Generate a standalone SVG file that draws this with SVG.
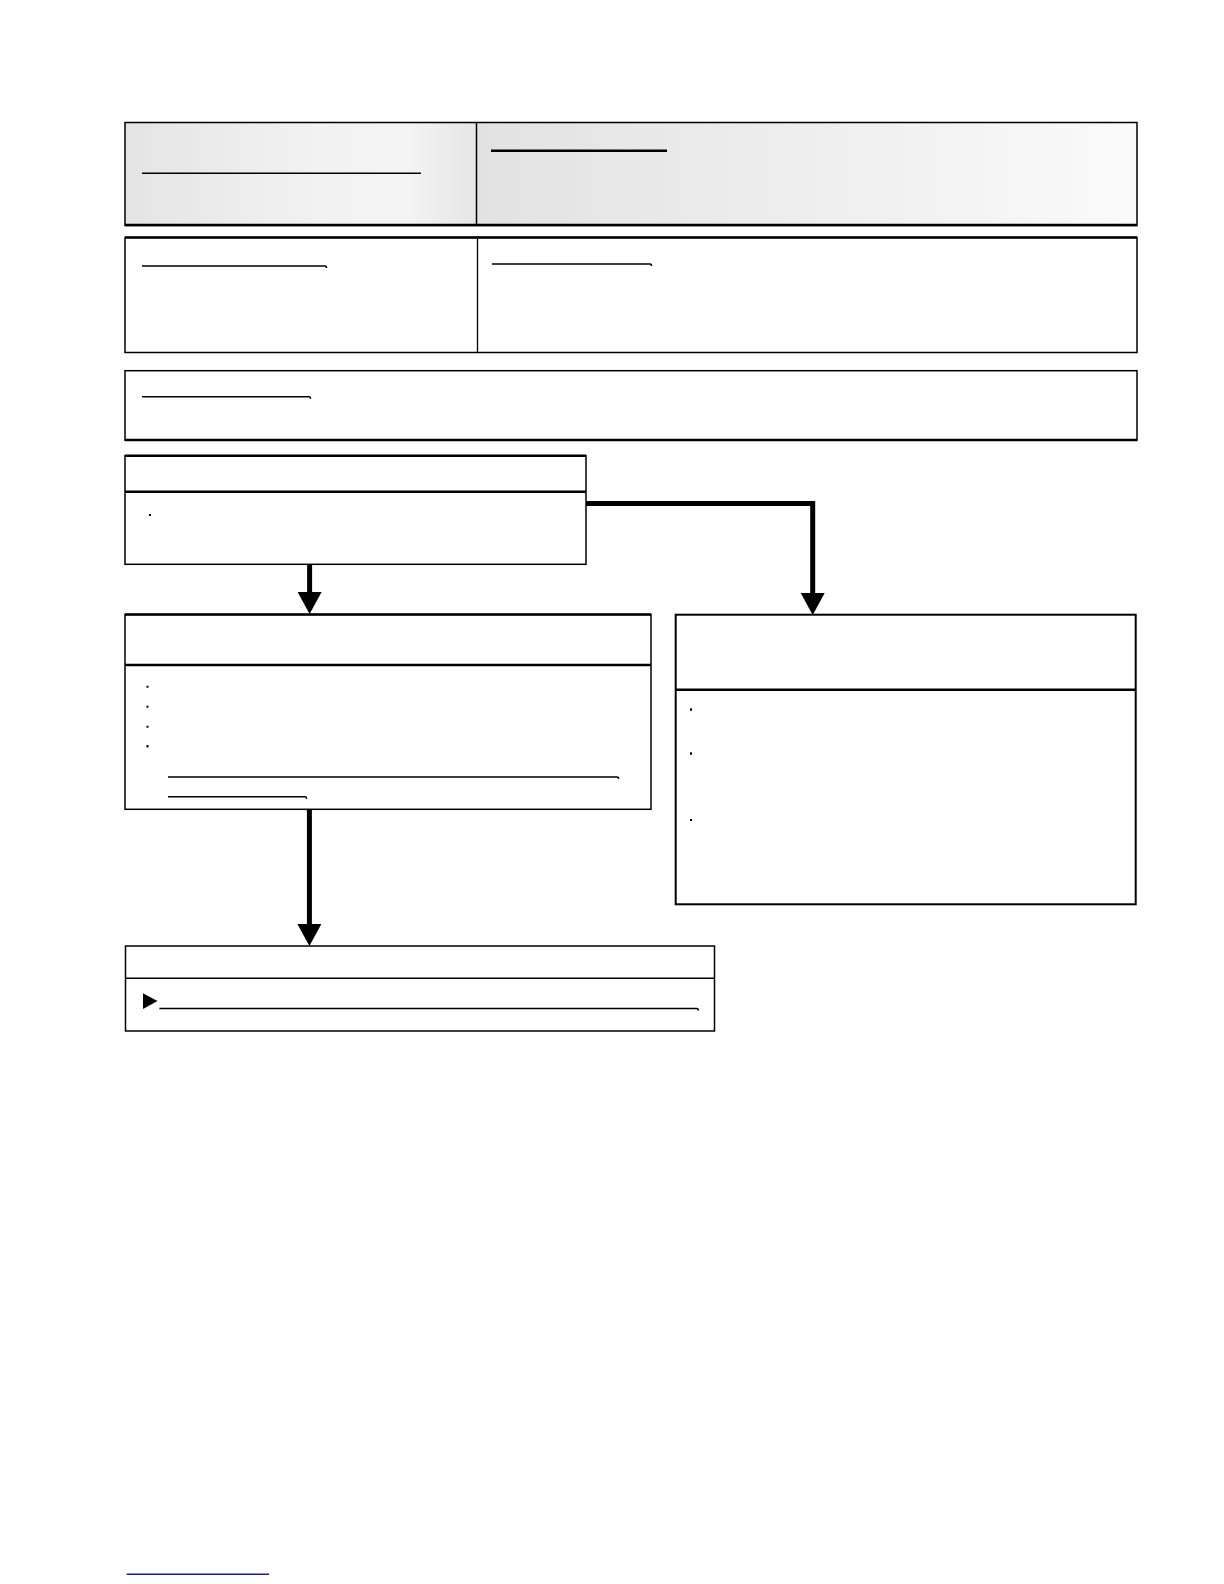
<svg xmlns="http://www.w3.org/2000/svg" width="1224" height="1584" viewBox="0 0 1224 1584">
  <defs>
    <linearGradient id="gLeft" x1="0" y1="0" x2="1" y2="0">
      <stop offset="0" stop-color="#e4e4e4"/>
      <stop offset="0.55" stop-color="#f2f2f2"/>
      <stop offset="0.8" stop-color="#f4f4f4"/>
      <stop offset="1" stop-color="#e6e6e6"/>
    </linearGradient>
    <linearGradient id="gRight" x1="0" y1="0" x2="1" y2="0">
      <stop offset="0" stop-color="#e2e2e2"/>
      <stop offset="1" stop-color="#fafafa"/>
    </linearGradient>
    <marker id="arrow" markerWidth="24" markerHeight="22" refX="12" refY="8" orient="0" markerUnits="userSpaceOnUse">
      <polygon points="0,0 24,0 12,22" fill="#000"/>
    </marker>
    <style>
      .box { fill: #fff; stroke: #000; stroke-width: 1.5; }
      .thick { stroke: #000; stroke-width: 2.5; fill: none; }
      .thin { stroke: #000; stroke-width: 1.5; fill: none; }
      .ul { stroke: #000; stroke-width: 1.6; fill: none; }
      .bullet { fill: #000; }
      .conn { stroke: #000; stroke-width: 5; fill: none; }
    </style>
  </defs>

  <g id="header">
    <rect x="125" y="122.5" width="351.5" height="103" fill="url(#gLeft)"/>
    <rect x="476.5" y="122.5" width="660.5" height="103" fill="url(#gRight)"/>
    <rect x="125" y="122.5" width="1012" height="103" fill="none" stroke="#000" stroke-width="1.5"/>
    <line class="thick" x1="125" y1="225" x2="1137" y2="225"/>
    <line class="thin" x1="476.5" y1="122.5" x2="476.5" y2="225.5"/>
    <line class="ul" x1="142" y1="173.3" x2="421" y2="173.3"/>
    <line stroke="#000" stroke-width="2.4" x1="491" y1="150.7" x2="667" y2="150.7"/>
  </g>

  <g id="info-box">
    <rect class="box" x="125" y="237.5" width="1012" height="115"/>
    <line class="thick" x1="125" y1="237.5" x2="1137" y2="237.5"/>
    <line stroke="#000" stroke-width="1.3" x1="477.5" y1="237.5" x2="477.5" y2="353"/>
    <path class="ul" d="M142,266 H325 q1.5,0 1.5,2"/>
    <path class="ul" d="M492,264 H650 q1.5,0 1.5,2"/>
  </g>

  <g id="note-box">
    <rect class="box" x="125" y="370.7" width="1012" height="69.5"/>
    <line class="thick" x1="125" y1="440" x2="1137" y2="440"/>
    <path class="ul" d="M142,396.7 H309 q1.5,0 1.5,2"/>
  </g>

  <g id="step1">
    <rect class="box" x="125" y="455.7" width="461" height="108.6"/>
    <line class="thick" x1="125" y1="455.7" x2="586" y2="455.7"/>
    <line class="thick" x1="125" y1="491.7" x2="586" y2="491.7"/>
    <rect class="bullet" x="149" y="514" width="2" height="2"/>
  </g>

  <g id="step2-left">
    <rect class="box" x="125" y="614.5" width="526" height="194.8"/>
    <line class="thick" x1="125" y1="614.5" x2="651" y2="614.5"/>
    <line class="thick" x1="125" y1="665" x2="651" y2="665"/>
    <rect class="bullet" x="146.5" y="685.7" width="2" height="2"/>
    <rect class="bullet" x="146.5" y="705.7" width="2" height="2"/>
    <rect class="bullet" x="146.5" y="725.7" width="2" height="2"/>
    <rect class="bullet" x="146.5" y="745" width="2" height="2.5"/>
    <path class="ul" d="M168,777 H617 q1.5,0 1.5,2"/>
    <path class="ul" d="M168,796.7 H305 q1.5,0 1.5,2"/>
  </g>

  <g id="step2-right">
    <rect x="675.7" y="614.7" width="460" height="289.6" fill="#fff" stroke="#000" stroke-width="2"/>
    <line class="thick" x1="675.7" y1="689.7" x2="1135.7" y2="689.7"/>
    <rect class="bullet" x="690" y="708.3" width="2" height="2.5"/>
    <rect class="bullet" x="690" y="752.3" width="2" height="2.5"/>
    <rect class="bullet" x="690" y="819" width="2" height="2"/>
  </g>

  <g id="step3">
    <rect class="box" x="125.5" y="946" width="589" height="85"/>
    <line class="thin" x1="125.5" y1="978.3" x2="714.5" y2="978.3"/>
    <polygon class="bullet" points="143,993.3 157.5,1001 143,1009"/>
    <path class="ul" d="M159.4,1008.5 H696.5 q1.8,0 1.8,2"/>
  </g>

  <g id="footer">
    <line stroke="#1c1c9c" stroke-width="1.4" x1="126.7" y1="1574.3" x2="269" y2="1574.3"/>
  </g>

  <g id="connectors">
    <path class="conn" d="M309.6,564.3 V600" marker-end="url(#arrow)"/>
    <path class="conn" d="M586,503.5 H812.7 V601" marker-end="url(#arrow)"/>
    <path class="conn" d="M309.4,809.3 V932" marker-end="url(#arrow)"/>
  </g>
</svg>
